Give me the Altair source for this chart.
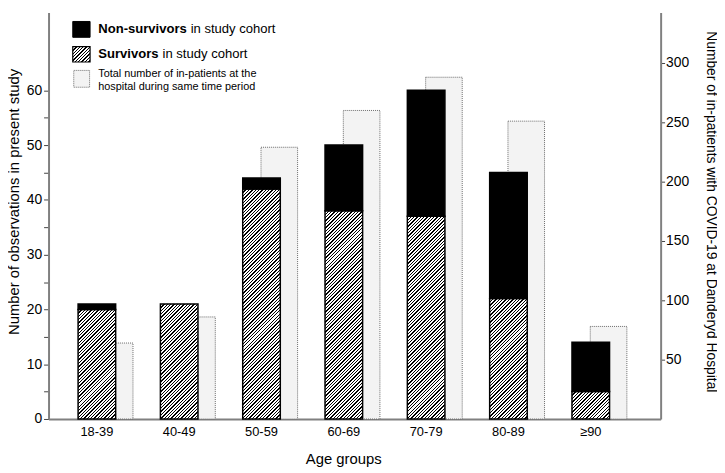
import math
import altair as alt
import pandas as pd

# ---------------- data ----------------
groups = ["18-39", "40-49", "50-59", "60-69", "70-79", "80-89", "≥90"]
survivors = [20, 21, 42, 38, 37, 22, 5]
non_survivors = [1, 0, 2, 12, 23, 23, 9]
hospital = [64, 86, 229, 260, 288, 251, 78]

legend_bold = ["Non-survivors", "Survivors"]
legend_rest = ["in study cohort", "in study cohort"]
legend_total = ["Total number of in-patients at the", "hospital during same time period"]

left_ticks = list(range(0, 65, 5))
right_ticks = [50, 100, 150, 200, 250, 300]

df = pd.DataFrame({
    "group": groups,
    "survivors": survivors,
    "non_survivors": non_survivors,
    "hospital": hospital,
})
df["total"] = df["survivors"] + df["non_survivors"]

# ---------------- layout ----------------
PLOT_W = 619
PLOT_H = 411
PX_LEFT = 5.54      # px per unit on left axis
PX_RIGHT = 1.2      # px per unit on right axis
LEFT_MAX = PLOT_H / PX_LEFT
RIGHT_MAX = PLOT_H / PX_RIGHT
BAR_W = 38
FONT = "Liberation Sans, Arial, Helvetica, sans-serif"


def hatch(w, h, period=3.4, dark=0.4):
    """Diagonal /// hatching built from a linear gradient (bbox units)."""
    k = h / w
    a = (1 + k) / (1 + k * k)
    span = w + h
    n = int(math.ceil(span / period))
    stops = []
    for i in range(n):
        t0 = min(i * period / span, 1)
        t1 = min((i + dark) * period / span, 1)
        t2 = min((i + 1) * period / span, 1)
        stops += [(t0, "#000000"), (t1, "#000000"), (t1, "#ffffff"), (t2, "#ffffff")]
    return alt.LinearGradient(
        gradient="linear", x1=0, y1=0, x2=a, y2=a * k,
        stops=[alt.GradientStop(offset=o, color=c) for o, c in stops],
    )


X = alt.X(
    "group:N",
    sort=groups,
    scale=alt.Scale(type="band", domain=groups, paddingInner=0, paddingOuter=0.218, align=0.2),
    axis=alt.Axis(
        title="Age groups", labelAngle=0, ticks=False, tickSize=0, labelPadding=7,
        labelFontSize=13, labelColor="black", titleFontSize=15, titleFontWeight="normal",
        titleColor="black", titleX=298, titleY=33, titleBaseline="top",
        domainColor="#808080", domainWidth=2, grid=False,
    ),
)

left_axis = alt.Axis(
    title="Number of observations in present study", orient="left",
    values=left_ticks, labelExpr="datum.value % 10 === 0 ? datum.label : ''",
    tickSize=5, tickColor="#444444", labelPadding=2, labelFontSize=14, labelColor="black",
    titleFontSize=15, titleFontWeight="normal", titleColor="black",
    titleX=-35, titleY=191, titleBaseline="middle", titleAlign="center", titleAngle=270,
    grid=False, domainColor="#808080", domainWidth=2,
)
left_scale = alt.Scale(domain=[0, LEFT_MAX], nice=False, zero=True)

right_axis = alt.Axis(
    title="Number of in-patients with COVID-19 at Danderyd Hospital", orient="right",
    values=right_ticks, tickSize=4, tickColor="#444444", labelPadding=1, labelFontSize=14,
    labelColor="black", titleFontSize=14, titleFontWeight="normal", titleColor="black",
    titleX=50.5, titleY=201, titleBaseline="middle", titleAlign="center", titleAngle=90,
    grid=False, domainColor="#808080", domainWidth=2,
)
right_scale = alt.Scale(domain=[0, RIGHT_MAX], nice=False, zero=True)

# hospital bars (right axis), behind
hosp = alt.Chart(df).mark_bar(
    fill="#f3f3f3", stroke="#6a6a6a", strokeWidth=1, strokeDash=[1, 1],
    width=37, xOffset=18,
).encode(
    x=X,
    y=alt.Y("hospital:Q", scale=right_scale, axis=right_axis),
)

# survivors (hatched), one layer per bar so each gets its own hatch
surv_layers = []
for g, s in zip(groups, survivors):
    surv_layers.append(
        alt.Chart(df).transform_filter(alt.datum.group == g).mark_bar(
            fill=hatch(BAR_W, s * PX_LEFT), stroke="black", strokeWidth=1.5, width=BAR_W,
        ).encode(
            x=X,
            y=alt.Y("survivors:Q", scale=left_scale, axis=left_axis),
        )
    )

nonsurv = alt.Chart(df).transform_filter(alt.datum.non_survivors > 0).mark_bar(
    fill="black", stroke="black", strokeWidth=1.5, width=BAR_W,
).encode(
    x=X,
    y=alt.Y("total:Q", scale=left_scale, axis=left_axis),
    y2="survivors:Q",
)

study = alt.layer(*surv_layers, nonsurv)

# ---------------- manual legend ----------------
one = pd.DataFrame({"k": [0]})

sq_black = alt.Chart(one).mark_rect(fill="black", stroke="black", strokeWidth=1).encode(
    x=alt.value(24.5), x2=alt.value(42), y=alt.value(9), y2=alt.value(25))
sq_hatch = alt.Chart(one).mark_rect(fill=hatch(17.5, 15.5), stroke="black", strokeWidth=1.2).encode(
    x=alt.value(24.5), x2=alt.value(42), y=alt.value(34.5), y2=alt.value(50))
sq_total = alt.Chart(one).mark_rect(fill="#f3f3f3", stroke="#6a6a6a", strokeWidth=1, strokeDash=[1, 1]).encode(
    x=alt.value(25.5), x2=alt.value(41.5), y=alt.value(58.5), y2=alt.value(75.5))


def txt(s, x, y, size, weight="normal"):
    return alt.Chart(pd.DataFrame({"t": [s]})).mark_text(
        align="left", baseline="middle", fontSize=size, fontWeight=weight, color="black", font=FONT,
    ).encode(text="t:N", x=alt.value(x), y=alt.value(y))


legend = [
    sq_black, sq_hatch, sq_total,
    txt(legend_bold[0], 50.3, 17, 13.2, "bold"),
    txt(legend_rest[0], 143.7, 17, 13.2),
    txt(legend_bold[1], 50.3, 42, 13.2, "bold"),
    txt(legend_rest[1], 115.3, 42, 13.2),
    txt(legend_total[0], 50.3, 62.5, 11),
    txt(legend_total[1], 50.3, 74.8, 11),
]

chart = alt.layer(hosp, study, *legend).resolve_scale(y="independent").properties(
    width=PLOT_W,
    height=PLOT_H,
    padding={"left": 41, "top": 2, "right": 57, "bottom": 52},
    autosize=alt.AutoSizeParams(type="none"),
).configure(font=FONT).configure_view(stroke=None)

chart.save("out.html", embed_options={"renderer": "svg", "actions": False})
